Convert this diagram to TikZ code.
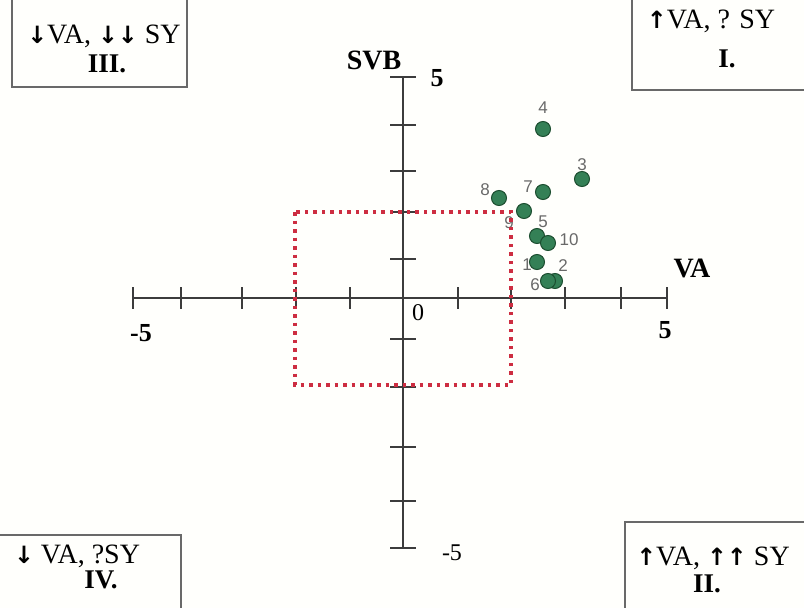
\documentclass[tikz,border=0pt]{standalone}
\usepackage{fontspec}
\setmainfont{Liberation Serif}
\newfontfamily\lblfont{Liberation Sans}
\newfontfamily\arrfont{DejaVu Sans}[Scale=0.85]
\usetikzlibrary{shapes}

\definecolor{bgcol}{RGB}{255,255,252}
\definecolor{axisgray}{RGB}{60,60,60}
\definecolor{boxgray}{RGB}{105,105,105}
\definecolor{dotred}{RGB}{205,45,65}
\definecolor{ptgreen}{RGB}{52,128,86}
\definecolor{ptedge}{RGB}{28,78,48}
\definecolor{lblgray}{RGB}{105,105,105}
\newcommand{\dn}{{\arrfont\bfseries ↓}}
\newcommand{\up}{{\arrfont\bfseries ↑}}

\begin{document}
\begin{tikzpicture}[x=1pt,y=-1pt,
    axis/.style={draw=axisgray,line width=2pt},
    quadbox/.style={draw=boxgray,line width=2pt},
    zone/.style={draw=dotred,line width=3.5pt,dash pattern=on 3.5pt off 5pt},
    pt/.style={circle,draw=ptedge,fill=ptgreen,line width=1pt,minimum size=15pt,inner sep=0pt},
    ptlbl/.style={font=\lblfont\fontsize{17}{17}\selectfont,text=lblgray,inner sep=0pt},
    quad/.style={font=\fontsize{28}{30}\selectfont,inner sep=0pt,anchor=base},
    quadnum/.style={quad,font=\fontsize{27}{30}\selectfont\bfseries},
    axlbl/.style={font=\fontsize{28}{30}\selectfont\bfseries,inner sep=0pt},
    numbf/.style={font=\fontsize{26}{28}\selectfont\bfseries,inner sep=0pt},
    tickno/.style={font=\fontsize{24}{26}\selectfont,inner sep=0pt}]
  \useasboundingbox (0,0) rectangle (804,608);
  \clip (0,0) rectangle (804,608);
  \fill[bgcol] (0,0) rectangle (804,608);

  % quadrant boxes
  \draw[quadbox] (12,-10) rectangle (187,87);
  \draw[quadbox] (632,-10) rectangle (814,90);
  \draw[quadbox] (-10,535) rectangle (181,618);
  \draw[quadbox] (625,522) rectangle (814,618);
  \node[quad]    (q3a) at (104,43)  {\dn VA, \dn\dn\ SY};
  \node[quadnum] (q3b) at (107,72)  {III.};
  \node[quad]    (q1a) at (711,28)  {\up VA, ? SY};
  \node[quadnum] (q1b) at (727,67)  {I.};
  \node[quad]    (q4a) at (77,563)  {\dn\ VA, ?SY};
  \node[quadnum] (q4b) at (101,588) {IV.};
  \node[quad]    (q2a) at (713,565) {\up VA, \up\up\ SY};
  \node[quadnum] (q2b) at (707,592) {II.};

  % axes
  \coordinate (xl) at (133,298);
  \coordinate (xr) at (667,298);
  \coordinate (yt) at (403,77);
  \coordinate (yb) at (403,548);
  \draw[axis] (xl) -- (xr);
  \draw[axis] (yt) -- (yb);
  \foreach \t in {133,181,242,296,350,458,511,565,621,667}
    \draw[axis] (\t,287) -- (\t,309);
  \foreach \t in {77,125,171,212,259,339,387,447,501,548}
    \draw[axis] (390,\t) -- (416,\t);

  \node[axlbl]  (svb)  at (374,60)  {SVB};
  \node[numbf]  (ymax) at (437,78)  {5};
  \node[axlbl]  (va)   at (692,268) {VA};
  \node[numbf]  (xmin) at (141,333) {-5};
  \node[numbf]  (xmax) at (665,330) {5};
  \node[tickno] (orig) at (418,313) {0};
  \node[tickno] (ymin) at (452,553) {-5};

  % point labels
  \node[ptlbl] (n4)  at (543,108) {4};
  \node[ptlbl] (n3)  at (582,165) {3};
  \node[ptlbl] (n7)  at (528,187) {7};
  \node[ptlbl] (n8)  at (485,190) {8};
  \node[ptlbl] (n9)  at (509,223) {9};
  \node[ptlbl] (n5)  at (543,222) {5};
  \node[ptlbl] (n10) at (569,240) {10};
  \node[ptlbl] (n1)  at (527,265) {1};
  \node[ptlbl] (n2)  at (563,266) {2};
  \node[ptlbl] (n6)  at (535,285) {6};

  % zone of no change
  \draw[zone] (295,212) rectangle (511,385);

  % points
  \node[pt] (p4)  at (543,129) {};
  \node[pt] (p3)  at (582,179) {};
  \node[pt] (p7)  at (543,192) {};
  \node[pt] (p8)  at (499,198) {};
  \node[pt] (p9)  at (524,211) {};
  \node[pt] (p5)  at (537,236) {};
  \node[pt] (p10) at (548,243) {};
  \node[pt] (p1)  at (537,262) {};
  \node[pt] (p2)  at (555,281) {};
  \node[pt] (p6)  at (548,281) {};
\end{tikzpicture}
\end{document}
